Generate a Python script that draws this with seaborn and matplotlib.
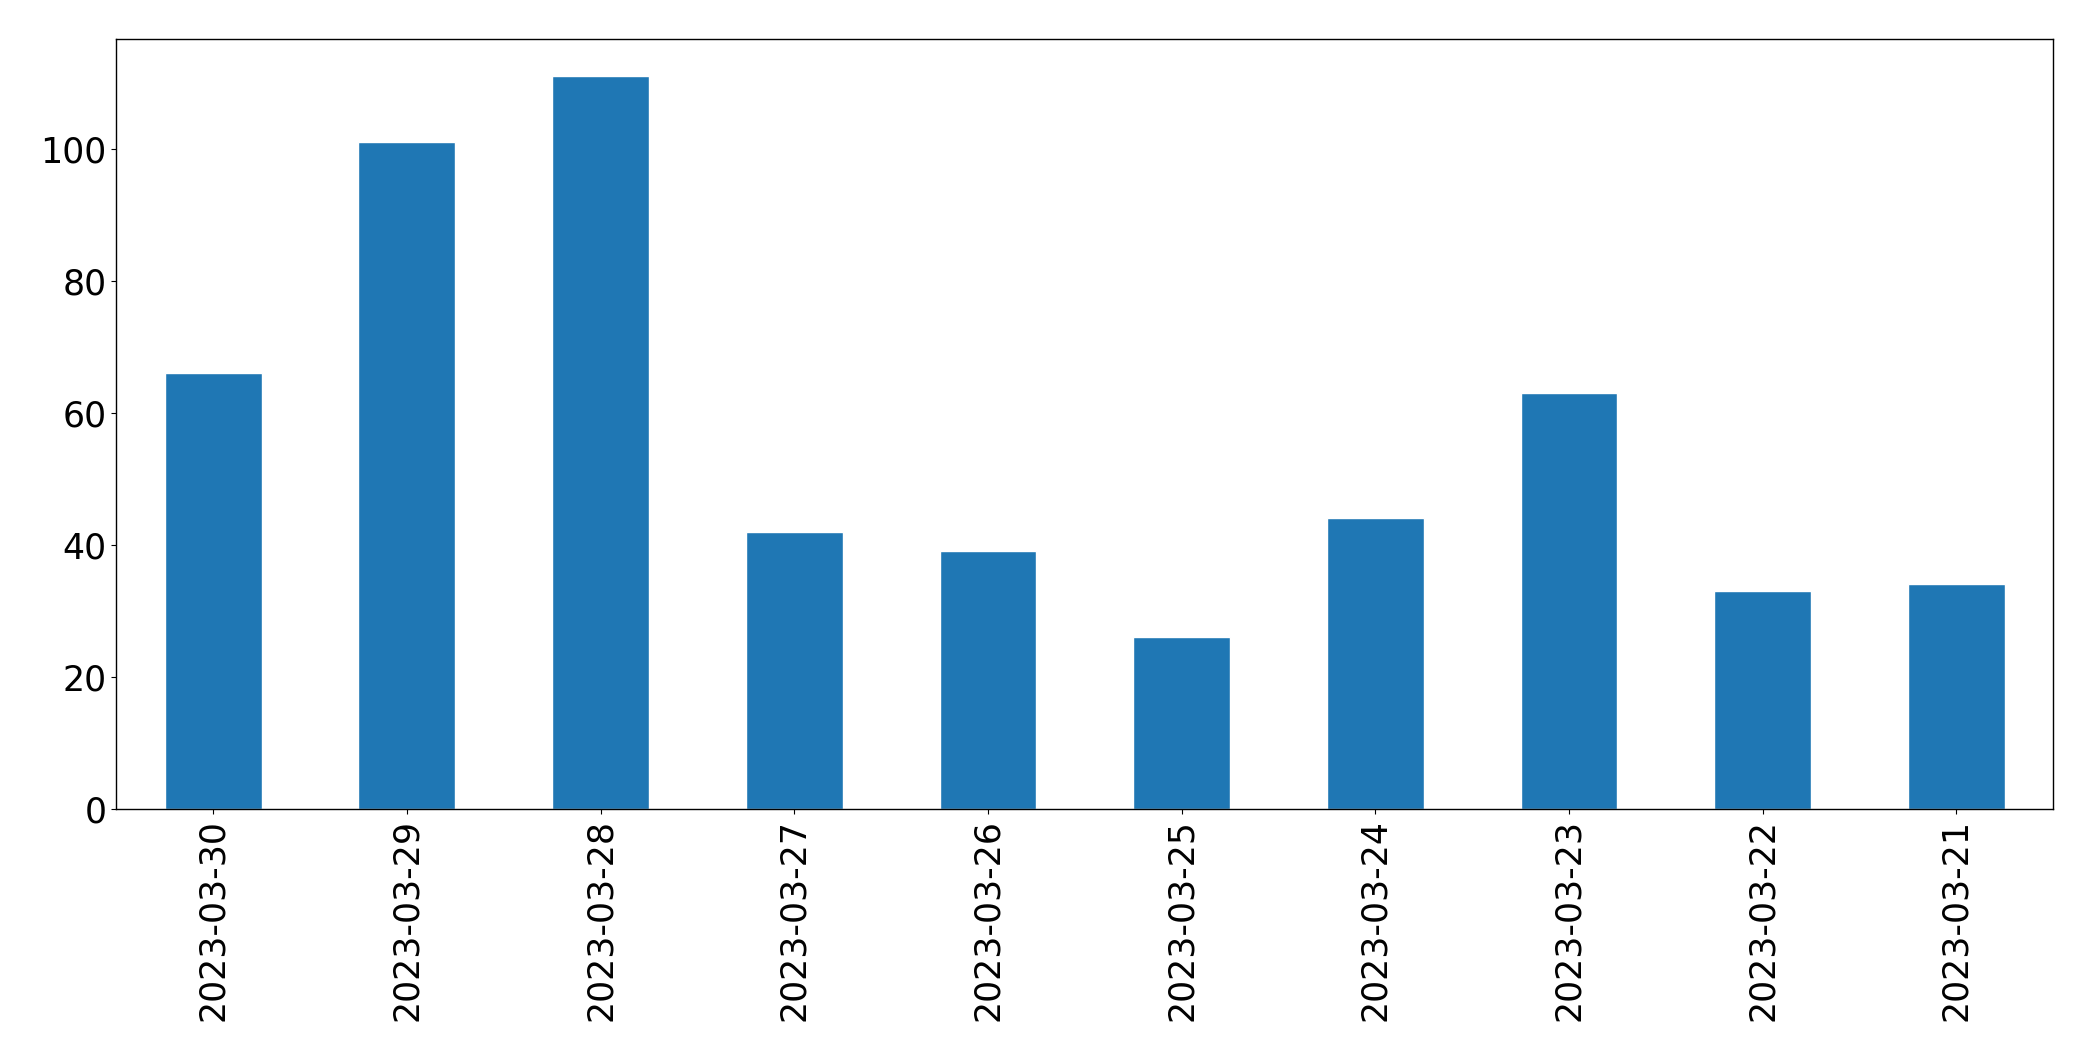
import pandas as pd
import matplotlib
matplotlib.use("Agg")
import matplotlib.pyplot as plt
import seaborn as sns

# Günlük sayılar
dates = ['2023-03-30', '2023-03-29', '2023-03-28', '2023-03-27', '2023-03-26',
         '2023-03-25', '2023-03-24', '2023-03-23', '2023-03-22', '2023-03-21']
counts = [66, 101, 111, 42, 39, 26, 44, 63, 33, 34]

data = pd.DataFrame({'date': dates, 'count': counts})

sns.set_style("ticks", rc={'xtick.color': 'black', 'ytick.color': 'black',
                           'text.color': 'black', 'axes.edgecolor': 'black',
                           'xtick.major.size': 3.5, 'ytick.major.size': 3.5})
plt.rcParams['font.family'] = ['DejaVu Sans']

fig, ax = plt.subplots(figsize=(20.93, 10.61), dpi=100)
fig.subplots_adjust(left=0.0556, right=0.981, top=0.963, bottom=0.2375)

sns.barplot(data=data, x='date', y='count', color='#1f77b4', saturation=1,
            width=0.5, ax=ax)

ax.set_xlim(-0.5, len(dates) - 0.5)
ax.set_ylim(0, max(counts) * 1.05)
ax.set_xlabel('')
ax.set_ylabel('')
ax.tick_params(axis='x', labelrotation=90, labelsize=25, colors='black')
ax.tick_params(axis='y', labelsize=25, colors='black')
for s in ax.spines.values():
    s.set_visible(True)
    s.set_color('black')
    s.set_linewidth(1)

fig.savefig('out.png', dpi=100)
